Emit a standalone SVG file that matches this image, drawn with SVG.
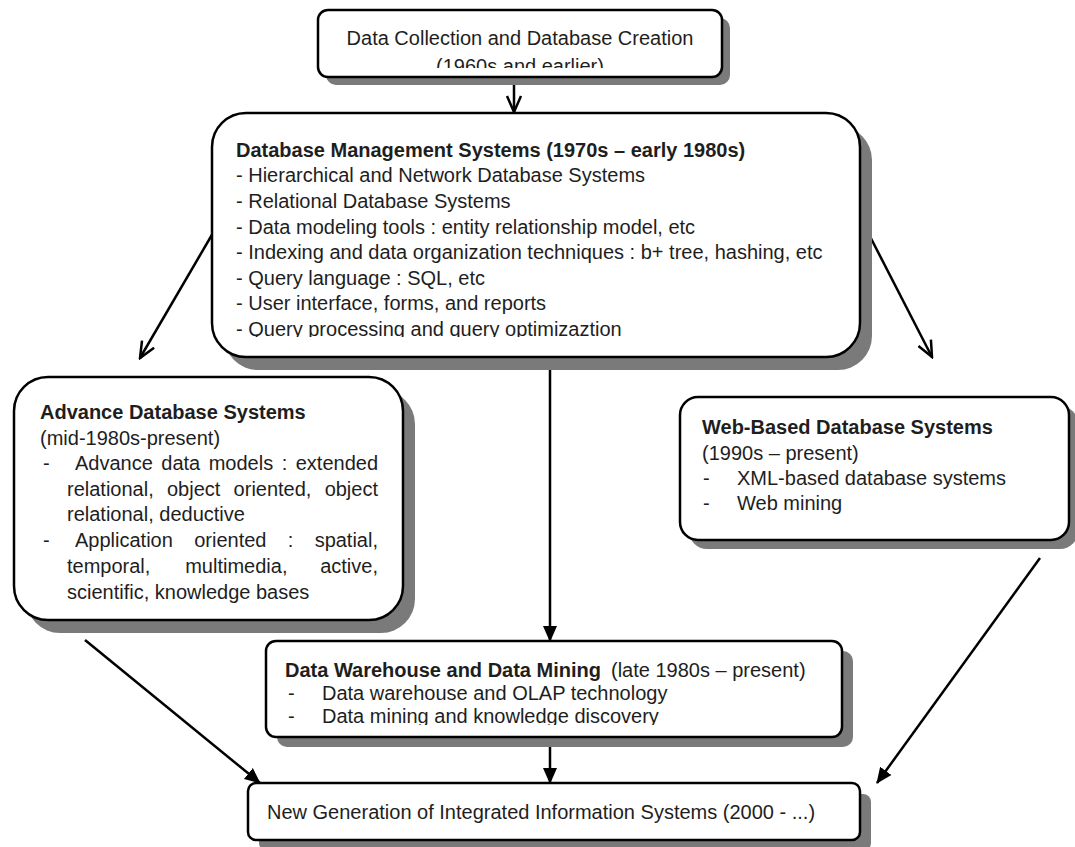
<svg xmlns="http://www.w3.org/2000/svg" width="1075" height="847" viewBox="0 0 1075 847">
<style>
.box{fill:#fff;stroke:#000;stroke-width:2.5}
.sh{fill:#7a7a7a}
.t{font-family:"Liberation Sans",Arial,sans-serif;font-size:20px;fill:#1e1e1e}
.b{font-weight:bold}
.conn{stroke:#000;stroke-width:2.5;fill:none}
</style>
<defs>
<marker id="open" viewBox="0 0 20 20" refX="18" refY="10" markerWidth="20" markerHeight="20" markerUnits="userSpaceOnUse" orient="auto">
<path d="M2,3 L18,10 L2,17" fill="none" stroke="#000" stroke-width="2.5"/>
</marker>
<marker id="fill" viewBox="0 0 16 16" refX="15" refY="8" markerWidth="16" markerHeight="16" markerUnits="userSpaceOnUse" orient="auto">
<path d="M0,1 L16,8 L0,15 z" fill="#000"/>
</marker>
<clipPath id="c1"><rect x="300" y="0" width="440" height="68"/></clipPath>
<clipPath id="c2"><rect x="200" y="300" width="660" height="37"/></clipPath>
<clipPath id="c3"><rect x="260" y="700" width="580" height="25"/></clipPath>
</defs>

<g id="connectors">
<line class="conn" x1="514" y1="77" x2="514" y2="112" marker-end="url(#open)"/>
<line class="conn" x1="213" y1="233" x2="140" y2="358" marker-end="url(#open)"/>
<line class="conn" x1="860" y1="217" x2="932" y2="357" marker-end="url(#open)"/>
<line class="conn" x1="550" y1="357" x2="550" y2="641" marker-end="url(#fill)"/>
<line class="conn" x1="550" y1="737" x2="550" y2="783" marker-end="url(#fill)"/>
<line class="conn" x1="85" y1="640" x2="260" y2="783" marker-end="url(#fill)"/>
<line class="conn" x1="1040" y1="558" x2="877" y2="783" marker-end="url(#fill)"/>
</g>

<g id="n-collection">
<rect class="sh" x="326" y="18" width="404" height="67" rx="10"/>
<rect class="box" x="318" y="10" width="404" height="67" rx="10"/>
<text class="t" x="520" y="45" text-anchor="middle">Data Collection and Database Creation</text>
<text class="t" x="520" y="73" text-anchor="middle" clip-path="url(#c1)">(1960s and earlier)</text>
</g>

<g id="n-dbms">
<rect class="sh" x="224" y="126" width="648" height="244" rx="34"/>
<rect class="box" x="212" y="113" width="648" height="244" rx="34"/>
<text class="t b" x="236" y="157">Database Management Systems (1970s – early 1980s)</text>
<text class="t" x="236" y="182">- Hierarchical and Network Database Systems</text>
<text class="t" x="236" y="208">- Relational Database Systems</text>
<text class="t" x="236" y="234">- Data modeling tools : entity relationship model, etc</text>
<text class="t" x="236" y="259">- Indexing and data organization techniques : b+ tree, hashing, etc</text>
<text class="t" x="236" y="285">- Query language : SQL, etc</text>
<text class="t" x="236" y="310">- User interface, forms, and reports</text>
<text class="t" x="236" y="336" clip-path="url(#c2)">- Query processing and query optimizaztion</text>
</g>

<g id="n-advance">
<rect class="sh" x="26" y="390" width="389" height="243" rx="34"/>
<rect class="box" x="14" y="377" width="389" height="243" rx="34"/>
<text class="t b" x="40" y="419">Advance Database Systems</text>
<text class="t" x="40" y="445">(mid-1980s-present)</text>
<text class="t" x="43" y="470">-</text>
<text class="t" y="470"><tspan x="75">Advance</tspan><tspan x="161.3">data</tspan><tspan x="208.7">models</tspan><tspan x="281.7">:</tspan></text>
<text class="t" x="378" y="470" text-anchor="end">extended</text>
<text class="t" y="496"><tspan x="67">relational,</tspan><tspan x="167">object</tspan><tspan x="233.6">oriented,</tspan></text>
<text class="t" x="378" y="496" text-anchor="end">object</text>
<text class="t" x="67" y="521">relational, deductive</text>
<text class="t" x="43" y="547">-</text>
<text class="t" y="547"><tspan x="75">Application</tspan><tspan x="194.2">oriented</tspan><tspan x="287.7">:</tspan></text>
<text class="t" x="378" y="547" text-anchor="end">spatial,</text>
<text class="t" y="573"><tspan x="67">temporal,</tspan><tspan x="185.2">multimedia,</tspan></text>
<text class="t" x="378" y="573" text-anchor="end">active,</text>
<text class="t" x="67" y="599">scientific, knowledge bases</text>
</g>

<g id="n-web">
<rect class="sh" x="689" y="406" width="389" height="143" rx="18"/>
<rect class="box" x="680" y="397" width="389" height="143" rx="18"/>
<text class="t b" x="702" y="434">Web-Based Database Systems</text>
<text class="t" x="702" y="460">(1990s – present)</text>
<text class="t" x="703" y="485">-</text>
<text class="t" x="737" y="485">XML-based database systems</text>
<text class="t" x="703" y="510">-</text>
<text class="t" x="737" y="510">Web mining</text>
</g>

<g id="n-warehouse">
<rect class="sh" x="277" y="651" width="576" height="96" rx="10"/>
<rect class="box" x="266" y="641" width="576" height="96" rx="10"/>
<text class="t" x="285" y="677"><tspan class="b">Data Warehouse and Data Mining</tspan><tspan x="611">(late 1980s – present)</tspan></text>
<text class="t" x="288" y="700">-</text>
<text class="t" x="322" y="700">Data warehouse and OLAP technology</text>
<text class="t" x="288" y="723">-</text>
<text class="t" x="322" y="723" clip-path="url(#c3)">Data mining and knowledge discovery</text>
</g>

<g id="n-newgen">
<rect class="sh" x="259" y="794" width="612" height="57" rx="8"/>
<rect class="box" x="248" y="783" width="612" height="57" rx="8"/>
<text class="t" x="267" y="819">New Generation of Integrated Information Systems (2000 - ...)</text>
</g>
</svg>
